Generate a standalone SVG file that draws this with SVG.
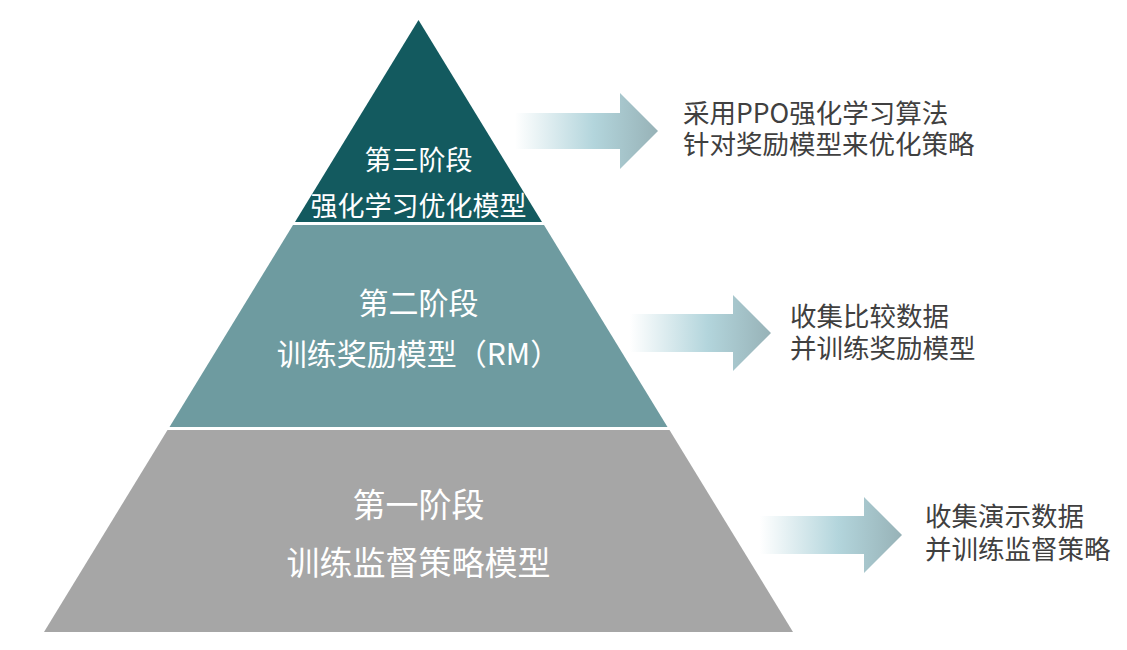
<svg xmlns="http://www.w3.org/2000/svg" width="1127" height="650" viewBox="0 0 1127 650">
  <style>
    .tier-label { font-family: "Noto Sans CJK SC", "Noto Sans", sans-serif; fill: #FFFFFF; text-anchor: middle; }
    .desc { font-family: "Noto Sans CJK SC", "Noto Sans", sans-serif; font-size: 26.5px; fill: #404040; }
  </style>
  <defs>
    <linearGradient id="arrowGrad" x1="0" y1="0" x2="1" y2="0">
      <stop offset="0" stop-color="#FFFFFF"/>
      <stop offset="0.55" stop-color="#B3D5DC"/>
      <stop offset="1" stop-color="#97B2B7"/>
    </linearGradient>
  </defs>
  <rect width="1127" height="650" fill="#FFFFFF"/>

  <g id="tier3">
    <polygon points="418.5,20 542,222 295,222" fill="#135A5F"/>
    <text class="tier-label" x="418.5" y="170" font-size="27">第三阶段</text>
    <text class="tier-label" x="418.5" y="216" font-size="27">强化学习优化模型</text>
  </g>

  <g id="tier2">
    <polygon points="293,225 544,225 667.5,427 169.5,427" fill="#6E9BA0"/>
    <text class="tier-label" x="418.5" y="314" font-size="30">第二阶段</text>
    <text class="tier-label" x="418.5" y="365" font-size="30">训练奖励模型（RM）</text>
  </g>

  <g id="tier1">
    <polygon points="167.5,430 669.5,430 793,632 44,632" fill="#A6A6A6"/>
    <text class="tier-label" x="418.5" y="517" font-size="33">第一阶段</text>
    <text class="tier-label" x="418.5" y="575" font-size="33">训练监督策略模型</text>
  </g>

  <g id="connectors">
    <polygon points="515,113 620,113 620,93 658,131 620,169 620,149 515,149" fill="url(#arrowGrad)"/>
    <polygon points="630,314 733,314 733,295 771,333 733,371 733,352 630,352" fill="url(#arrowGrad)"/>
    <polygon points="760,516 864,516 864,497 902,535 864,573 864,554 760,554" fill="url(#arrowGrad)"/>
  </g>

  <g id="desc3">
    <text class="desc" x="683" y="123">采用PPO强化学习算法</text>
    <text class="desc" x="683" y="154">针对奖励模型来优化策略</text>
  </g>
  <g id="desc2">
    <text class="desc" x="790" y="326">收集比较数据</text>
    <text class="desc" x="790" y="358">并训练奖励模型</text>
  </g>
  <g id="desc1">
    <text class="desc" x="925" y="526">收集演示数据</text>
    <text class="desc" x="925" y="559">并训练监督策略</text>
  </g>
</svg>
